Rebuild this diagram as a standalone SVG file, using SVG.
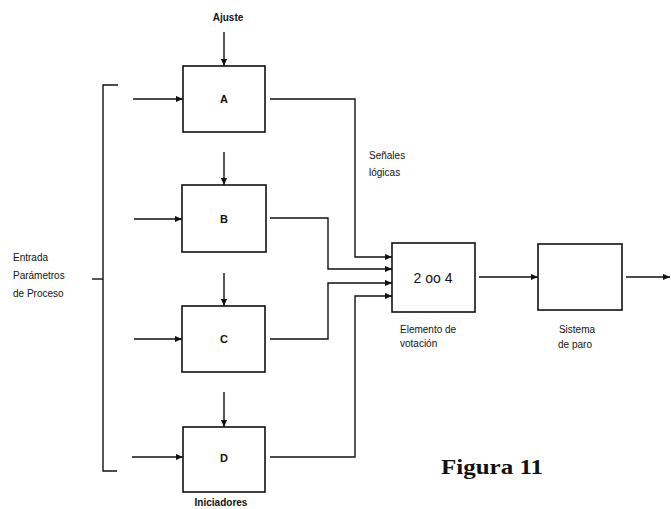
<svg xmlns="http://www.w3.org/2000/svg" width="671" height="509" viewBox="0 0 671 509">
<style>
.box{fill:#fff;stroke:#111;stroke-width:1.6}
.ln{fill:none;stroke:#111;stroke-width:1.4}
.t{font-family:"Liberation Sans",Arial,sans-serif;font-size:10px;fill:#111}
.lb{font-family:"Liberation Sans",Arial,sans-serif;font-size:11px;font-weight:bold;fill:#111}
</style>
<defs>
<marker id="ah" viewBox="0 0 8 8" refX="8" refY="4" markerWidth="7" markerHeight="7" markerUnits="userSpaceOnUse" orient="auto">
<path d="M0 0.5 L8 4 L0 7.5 Z" fill="#111"/>
</marker>
</defs>
<rect width="671" height="509" fill="#fff"/>
<g id="connectors">
<path class="ln" d="M224 32 V66" marker-end="url(#ah)"/>
<path class="ln" d="M224 152 V185" marker-end="url(#ah)"/>
<path class="ln" d="M224 273 V306" marker-end="url(#ah)"/>
<path class="ln" d="M224 392 V427" marker-end="url(#ah)"/>
<path class="ln" d="M133 99 H183" marker-end="url(#ah)"/>
<path class="ln" d="M134 219 H182" marker-end="url(#ah)"/>
<path class="ln" d="M134 339 H182" marker-end="url(#ah)"/>
<path class="ln" d="M132 457 H183" marker-end="url(#ah)"/>
<path class="ln" d="M118 85 H103 V471 H117"/>
<path class="ln" d="M92 279 H103"/>
<path class="ln" d="M270 99 H355 V257 H392" marker-end="url(#ah)"/>
<path class="ln" d="M270 218 H328 V269 H392" marker-end="url(#ah)"/>
<path class="ln" d="M270 339 H328 V283 H392" marker-end="url(#ah)"/>
<path class="ln" d="M270 457 H355 V296 H392" marker-end="url(#ah)"/>
<path class="ln" d="M479 277 H538" marker-end="url(#ah)"/>
<path class="ln" d="M626 277 H670" marker-end="url(#ah)"/>
</g>
<g id="ajuste"><text class="t" x="228" y="21" text-anchor="middle" font-weight="bold">Ajuste</text></g>
<g id="A"><rect class="box" x="183" y="66" width="82" height="66"/><text class="lb" x="224" y="103" text-anchor="middle">A</text></g>
<g id="B"><rect class="box" x="182" y="185" width="84" height="67"/><text class="lb" x="224" y="223" text-anchor="middle">B</text></g>
<g id="C"><rect class="box" x="182" y="306" width="83" height="66"/><text class="lb" x="224" y="343" text-anchor="middle">C</text></g>
<g id="D"><rect class="box" x="183" y="427" width="82" height="65"/><text class="lb" x="224" y="462" text-anchor="middle">D</text></g>
<g id="entrada">
<text class="t" x="13" y="261">Entrada</text>
<text class="t" x="13" y="279">Parámetros</text>
<text class="t" x="13" y="297">de Proceso</text>
</g>
<g id="senales">
<text class="t" x="369" y="159">Señales</text>
<text class="t" x="369" y="176">lógicas</text>
</g>
<g id="voting">
<rect class="box" x="392" y="243" width="83" height="69"/>
<text x="433" y="283" text-anchor="middle" font-family="Liberation Sans, Arial, sans-serif" font-size="14" fill="#111">2 oo 4</text>
<text class="t" x="400" y="333">Elemento de</text>
<text class="t" x="400" y="347">votación</text>
</g>
<g id="sistema">
<rect class="box" x="538" y="244" width="84" height="66"/>
<text class="t" x="577" y="333" text-anchor="middle">Sistema</text>
<text class="t" x="575" y="348" text-anchor="middle">de paro</text>
</g>
<g id="iniciadores"><text class="t" x="221" y="506" text-anchor="middle" font-weight="bold" font-size="9">Iniciadores</text></g>
<g id="figura"><text x="441" y="474" font-family="Liberation Serif, Times New Roman, serif" font-size="22" font-weight="bold" fill="#111" textLength="102" lengthAdjust="spacingAndGlyphs">Figura 11</text></g>
</svg>
